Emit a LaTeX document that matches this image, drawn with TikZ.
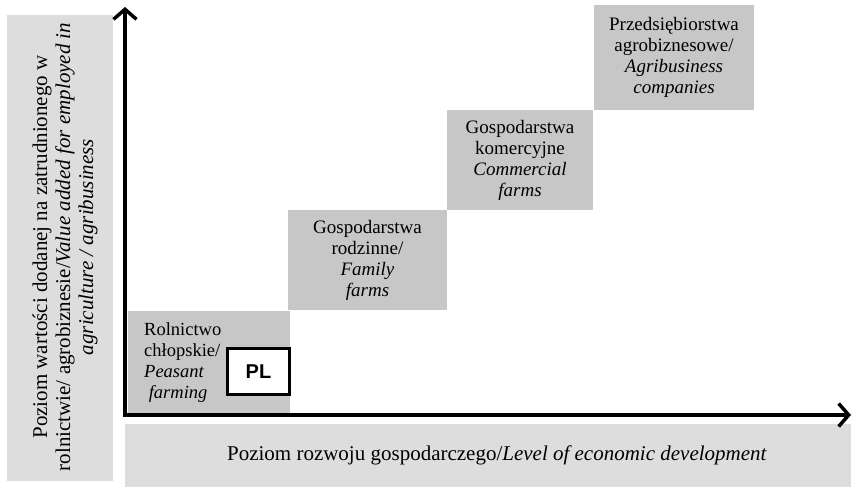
\documentclass[tikz,border=0pt]{standalone}
\usepackage{fontspec}
\setmainfont{Liberation Serif}
\newfontfamily\plfont{Liberation Sans}
\usetikzlibrary{arrows.meta}
\definecolor{jasny}{HTML}{DDDDDD}
\definecolor{ciemny}{HTML}{C7C7C7}
\tikzset{
  tlo/.style = {fill=jasny, draw=none, inner sep=0pt},% tlo opisu osi
  opis/.style = {inner sep=0pt, align=center,
    font=\fontsize{21}{23}\selectfont},% opis osi
  etap/.style = {fill=ciemny, draw=none, inner sep=0pt, align=center,
    font=\fontsize{19}{21}\selectfont},% etap rozwoju, szary blok
  kraj/.style = {fill=white, draw=black, line width=3.5pt, inner sep=0pt,
    minimum width=62pt, minimum height=46pt,
    font=\plfont\bfseries\fontsize{20}{20}\selectfont},% ramka PL
  os/.style = {line width=3.5pt, line join=miter,
    {Straight Barb[length=10pt,width=23pt]}-{Straight Barb[length=10pt,width=23pt]}}% osie
}

\begin{document}
\begin{tikzpicture}[x=1pt,y=-1pt]
\useasboundingbox (0,0) rectangle (853,490);
% opisy osi
\node [tlo, minimum width=106pt, minimum height=466pt] (tloy) at (60,248) {};
\node [opis, rotate=90] (osy) at (65,247)
  {Poziom wartości dodanej na zatrudnionego w\\
   rolnictwie/ agrobiznesie/\textit{Value added for employed in}\\
   \textit{agriculture / agribusiness}};
\node [tlo, minimum width=726pt, minimum height=63pt] (tlox) at (488,455.5) {};
\node [opis] (osx) at (497,455.5)
  {Poziom rozwoju gospodarczego/\textit{Level of economic development}};
% etapy
\node [etap, minimum width=162pt, minimum height=102pt] (chlop) at (209,362) {};
\node [etap, minimum width=159pt, minimum height=100pt] (rodz) at (367.5,260)
  {Gospodarstwa\\rodzinne/\\\textit{Family}\\\textit{farms}};
\node [etap, minimum width=146pt, minimum height=100pt] (kom) at (520,160)
  {Gospodarstwa\\komercyjne\\\textit{Commercial}\\\textit{farms}};
\node [etap, minimum width=160pt, minimum height=105pt] (agro) at (674,57.5)
  {Przedsiębiorstwa\\agrobiznesowe/\\\textit{Agribusiness}\\\textit{companies}};
\node [align=left, inner sep=0pt, anchor=west, font=\fontsize{18.5}{21}\selectfont]
  (chlopt) at (144,363) {Rolnictwo\\chłopskie/\\\textit{Peasant}\\\ \textit{farming}};
\node [kraj] (pl) at (258.5,371.5) {PL};
% osie
\coordinate (o) at (125,415);
\coordinate (ytop) at (125,7);
\coordinate (xend) at (851,415);
\draw [os] (ytop) -- (o) -- (xend);
\end{tikzpicture}
\end{document}
